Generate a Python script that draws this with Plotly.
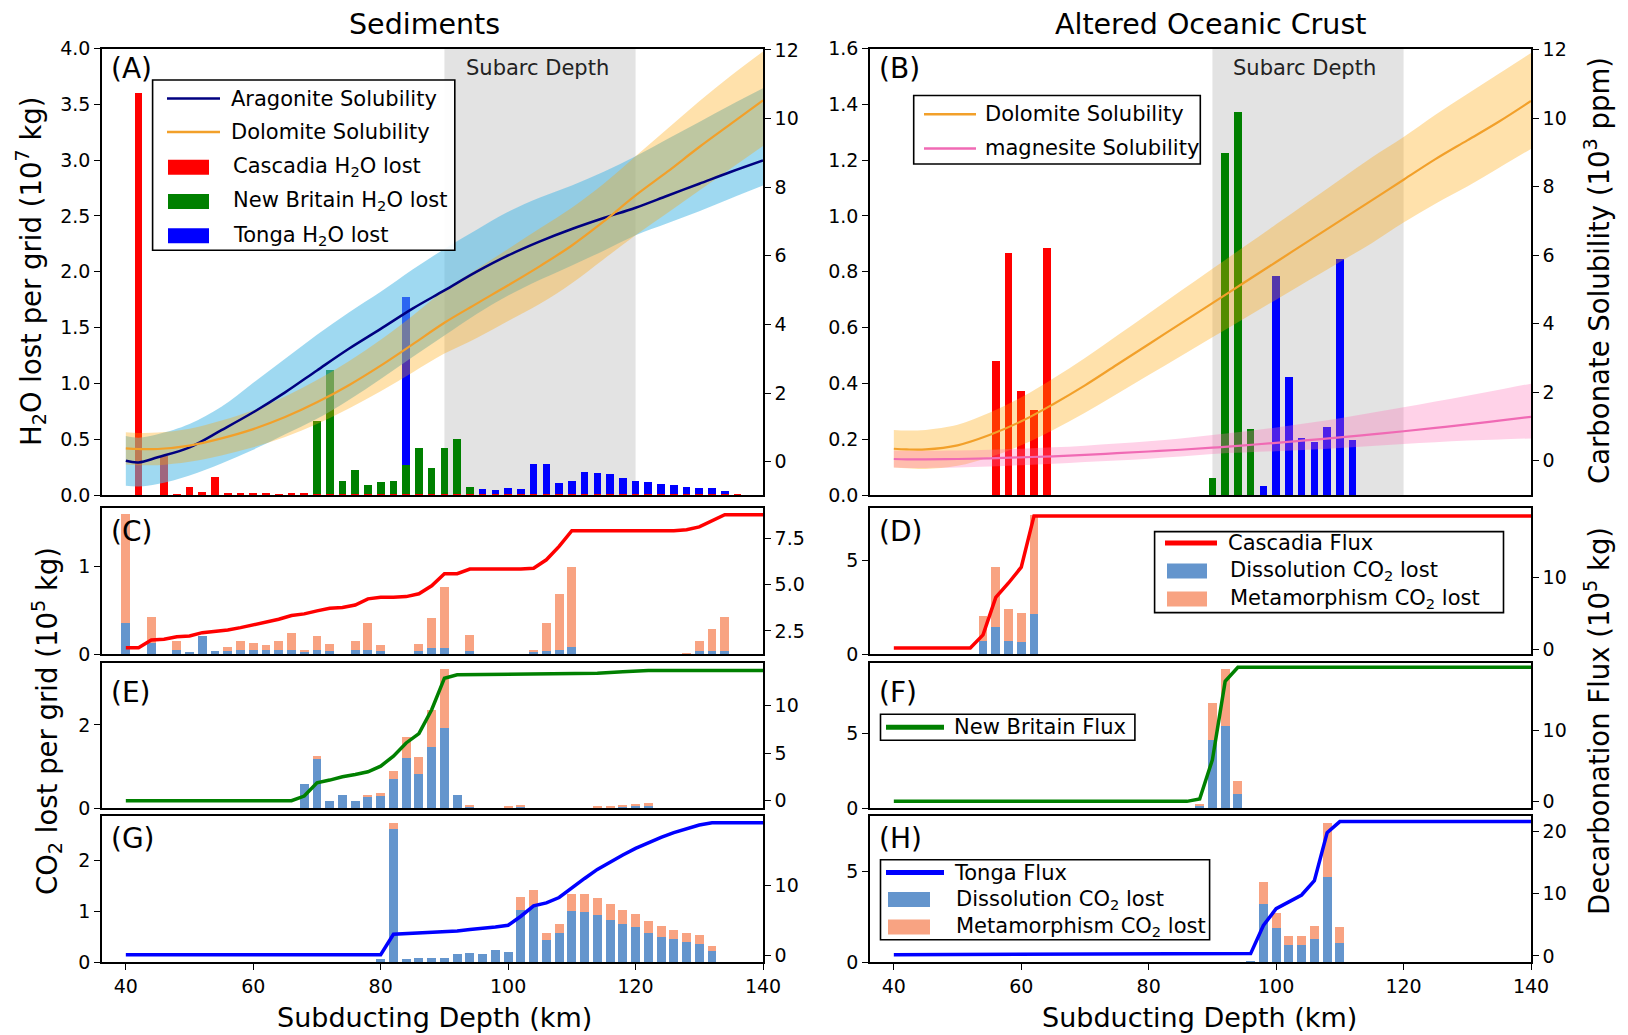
import plotly.graph_objects as go

W, H = 1628, 1035
FONT = "DejaVu Sans"

# ================= DATA =================
# ---- Panel A: sediments, H2O lost per grid (1e7 kg) ----
a_cas_x = [42, 46, 48, 50, 52, 54, 56, 58, 60, 62, 64, 66, 68,
           70, 72, 74, 76, 78, 80, 82, 84, 86, 88, 90, 92, 94, 96, 98, 100, 102,
           104, 106, 108, 110, 112, 114, 116, 118, 120, 122, 124, 126, 128, 130, 132, 134, 136]
a_cas_h2o = [3.61, 0.35, 0.015, 0.08, 0.03, 0.17, 0.025, 0.025, 0.025, 0.025, 0.015, 0.025, 0.025,
             0.012, 0.012, 0.012, 0.012, 0.012, 0.012, 0.012, 0.012, 0.012, 0.012, 0.012, 0.012, 0.012, 0.012, 0.012, 0.012, 0.012,
             0.012, 0.012, 0.012, 0.012, 0.012, 0.012, 0.012, 0.012, 0.012, 0.012, 0.012, 0.012, 0.012, 0.012, 0.012, 0.012, 0.012]
a_nb_x = [70, 72, 74, 76, 78, 80, 82, 84, 86, 88, 90, 92, 94]
a_nb_h2o = [0.67, 1.12, 0.13, 0.23, 0.09, 0.12, 0.13, 0.27, 0.43, 0.25, 0.43, 0.51, 0.08]
a_tg_x = [84, 96, 98, 100, 102, 104, 106, 108, 110, 112, 114, 116, 118, 120, 122, 124, 126, 128, 130, 132, 134, 136]
a_tg_h2o = [1.78, 0.06, 0.05, 0.063, 0.054, 0.28, 0.28, 0.11, 0.13, 0.21, 0.20, 0.19, 0.16, 0.13, 0.12, 0.10, 0.09, 0.08, 0.07, 0.063, 0.04, 0.015]

# solubility curves (1e3 ppm), right axes of A and B
sol_x = [40, 42, 45, 50, 55, 60, 65, 70, 75, 80, 85, 90, 95, 100, 105, 110, 115, 120, 125, 130, 135, 140]
arag = [0.03, -0.02, 0.13, 0.42, 0.92, 1.44, 2.02, 2.66, 3.29, 3.87, 4.46, 4.99, 5.53, 6.01, 6.42, 6.78, 7.1, 7.4, 7.75, 8.1, 8.45, 8.78]
arag_hi = [0.75, 0.7, 0.8, 1.1, 1.6, 2.3, 3.0, 3.7, 4.35, 4.95, 5.6, 6.2, 6.75, 7.28, 7.7, 8.05, 8.45, 8.9, 9.4, 9.9, 10.4, 10.88]
arag_lo = [-0.7, -0.72, -0.65, -0.4, -0.05, 0.35, 0.8, 1.25, 1.8, 2.41, 3.05, 3.68, 4.3, 4.84, 5.3, 5.72, 6.15, 6.6, 6.95, 7.3, 7.68, 8.05]
dolo_a = [0.39, 0.37, 0.37, 0.47, 0.68, 0.95, 1.3, 1.73, 2.23, 2.8, 3.42, 4.05, 4.6, 5.14, 5.7, 6.3, 7.0, 7.76, 8.45, 9.17, 9.85, 10.53]
dolo_a_hi = [0.86, 0.84, 0.85, 0.96, 1.2, 1.5, 1.9, 2.38, 2.93, 3.55, 4.25, 5.0, 5.6, 6.2, 6.8, 7.4, 8.1, 8.9, 9.7, 10.5, 11.25, 11.95]
dolo_a_lo = [-0.08, -0.1, -0.1, 0.0, 0.18, 0.42, 0.72, 1.1, 1.55, 2.05, 2.6, 3.15, 3.6, 4.1, 4.6, 5.2, 5.9, 6.6, 7.25, 7.9, 8.55, 9.2]

# ---- Panel B: altered oceanic crust, H2O lost ----
b_cas_x = [56, 58, 60, 62, 64]
b_cas_h2o = [0.483, 0.869, 0.375, 0.307, 0.886]
b_nb_x = [90, 92, 94, 96]
b_nb_h2o = [0.063, 1.229, 1.375, 0.237]
b_tg_x = [98, 100, 102, 104, 106, 108, 110, 112]
b_tg_h2o = [0.034, 0.788, 0.423, 0.205, 0.193, 0.245, 0.847, 0.198]
dolo_b = [0.35, 0.33, 0.33, 0.45, 0.75, 1.15, 1.65, 2.2, 2.8, 3.4, 4.0, 4.6, 5.2, 5.8, 6.4, 7.0, 7.6, 8.2, 8.8, 9.35, 9.9, 10.5]
dolo_b_hi = [0.9, 0.88, 0.9, 1.05, 1.4, 1.85, 2.4, 3.0, 3.65, 4.3, 4.95, 5.6, 6.25, 6.9, 7.55, 8.2, 8.85, 9.45, 10.1, 10.7, 11.3, 11.9]
dolo_b_lo = [-0.2, -0.22, -0.24, -0.15, 0.1, 0.45, 0.9, 1.4, 1.95, 2.5, 3.05, 3.6, 4.15, 4.7, 5.25, 5.8, 6.35, 6.95, 7.5, 8.0, 8.55, 9.1]
magn = [0.05, 0.04, 0.04, 0.05, 0.07, 0.1, 0.13, 0.17, 0.22, 0.27, 0.32, 0.38, 0.45, 0.52, 0.6, 0.68, 0.77, 0.86, 0.96, 1.06, 1.17, 1.28]
magn_hi = [0.3, 0.29, 0.29, 0.3, 0.32, 0.35, 0.39, 0.44, 0.5, 0.57, 0.65, 0.75, 0.85, 0.97, 1.1, 1.24, 1.4, 1.56, 1.73, 1.9, 2.07, 2.25]
magn_lo = [-0.2, -0.21, -0.21, -0.2, -0.17, -0.13, -0.09, -0.04, 0.01, 0.06, 0.12, 0.2, 0.24, 0.28, 0.32, 0.37, 0.43, 0.49, 0.54, 0.59, 0.62, 0.65]

subarc = [90, 120]

# ---- Panels C-H: CO2 lost per grid (1e5 kg) and decarbonation flux (1e5 kg) ----
c_x = [40, 44, 48, 50, 52, 54, 56, 58, 60, 62, 64, 66, 68, 70, 72, 76, 78, 80, 86, 88, 90, 94, 104, 106, 108, 110, 128, 130, 132, 134]
c_diss = [0.35, 0.12, 0.05, 0.015, 0.20, 0.03, 0.03, 0.05, 0.04, 0.04, 0.05, 0.05, 0.03, 0.04, 0.03, 0.04, 0.05, 0.03, 0.03, 0.065, 0.065, 0.03, 0.02, 0.03, 0.05, 0.08, 0.005, 0.03, 0.03, 0.03]
c_meta = [1.24, 0.30, 0.10, 0.0, 0.0, 0.0, 0.05, 0.10, 0.09, 0.06, 0.10, 0.19, 0.02, 0.16, 0.08, 0.11, 0.30, 0.07, 0.08, 0.345, 0.695, 0.19, 0.03, 0.32, 0.63, 0.91, 0.005, 0.12, 0.25, 0.39]
c_fx = [40, 42, 44, 46, 48, 50, 52, 54, 56, 58, 60, 62, 64, 66, 68, 70, 72, 74, 76, 78, 80, 82, 84, 86, 88, 90, 92, 94, 96, 102, 104, 106, 108, 110, 126, 128, 130, 132, 134, 140]
c_flux = [1.6, 1.6, 2.01, 2.05, 2.19, 2.23, 2.41, 2.48, 2.55, 2.68, 2.82, 2.95, 3.13, 3.33, 3.42, 3.58, 3.72, 3.76, 3.9, 4.23, 4.32, 4.32, 4.35, 4.5, 4.93, 5.58, 5.58, 5.83, 5.83, 5.83, 5.88, 6.33, 7.05, 7.9, 7.9, 7.95, 8.1, 8.45, 8.76, 8.76]

d_x = [54, 56, 58, 60, 62]
d_diss = [0.72, 1.43, 0.72, 0.65, 2.13]
d_meta = [1.34, 3.21, 1.68, 1.57, 5.34]
d_fx = [40, 52, 54, 56, 58, 60, 62, 140]
d_flux = [0.18, 0.18, 2.0, 7.2, 9.2, 11.4, 18.5, 18.5]

e_x = [68, 70, 72, 74, 76, 78, 80, 82, 84, 86, 88, 90, 92, 94, 100, 102, 114, 116, 118, 120, 122]
e_diss = [0.57, 1.18, 0.17, 0.32, 0.17, 0.28, 0.29, 0.69, 1.21, 0.82, 1.47, 1.93, 0.32, 0.04, 0.02, 0.025, 0.015, 0.02, 0.03, 0.04, 0.05]
e_meta = [0.0, 0.07, 0.0, 0.0, 0.0, 0.01, 0.07, 0.20, 0.50, 0.40, 0.90, 1.41, 0.0, 0.03, 0.02, 0.025, 0.015, 0.02, 0.03, 0.05, 0.08]
e_fx = [40, 66, 68, 70, 72, 74, 76, 78, 80, 82, 84, 86, 88, 90, 92, 100, 110, 114, 118, 122, 140]
e_flux = [0.0, 0.0, 0.49, 1.89, 2.17, 2.52, 2.76, 3.04, 3.64, 4.69, 6.08, 7.06, 9.58, 12.9, 13.25, 13.32, 13.36, 13.43, 13.57, 13.7, 13.7]

f_x = [88, 90, 92, 94]
f_diss = [0.2, 4.6, 5.54, 0.96]
f_meta = [0.07, 2.46, 3.81, 0.83]
f_fx = [40, 86, 88, 90, 92, 94, 140]
f_flux = [0.0, 0.0, 0.33, 5.9, 17.0, 19.0, 19.0]

g_x = [80, 82, 84, 86, 88, 90, 92, 94, 96, 98, 100, 102, 104, 106, 108, 110, 112, 114, 116, 118, 120, 122, 124, 126, 128, 130, 132]
g_diss = [0.05, 2.62, 0.05, 0.08, 0.08, 0.08, 0.15, 0.18, 0.15, 0.23, 0.2, 1.02, 1.08, 0.44, 0.57, 1.0, 0.98, 0.92, 0.83, 0.74, 0.69, 0.57, 0.5, 0.46, 0.39, 0.36, 0.22]
g_meta = [0.0, 0.11, 0.0, 0.0, 0.0, 0.0, 0.0, 0.0, 0.0, 0.0, 0.0, 0.25, 0.33, 0.13, 0.18, 0.33, 0.35, 0.33, 0.32, 0.28, 0.26, 0.24, 0.21, 0.16, 0.18, 0.18, 0.09]
g_fx = [40, 80, 82, 84, 86, 88, 90, 92, 94, 96, 98, 100, 102, 104, 106, 108, 110, 112, 114, 116, 118, 120, 122, 124, 126, 128, 130, 132, 140]
g_flux = [0.1, 0.1, 3.0, 3.1, 3.2, 3.24, 3.33, 3.48, 3.67, 3.81, 4.05, 4.29, 5.57, 7.05, 7.48, 8.24, 9.52, 10.95, 12.24, 13.33, 14.29, 15.24, 16.05, 16.81, 17.48, 18.05, 18.57, 18.9, 18.9]

h_x = [96, 98, 100, 102, 104, 106, 108, 110]
h_diss = [0.03, 3.24, 1.89, 0.93, 0.93, 1.26, 4.69, 1.07]
h_meta = [0.0, 1.20, 0.80, 0.50, 0.50, 0.76, 3.03, 0.87]
h_fx = [40, 96, 98, 100, 102, 104, 106, 108, 110, 140]
h_flux = [0.2, 0.38, 4.9, 7.6, 8.7, 9.8, 12.1, 19.8, 21.6, 21.6]

# ================= STYLE / LAYOUT =================
C_RED, C_GREEN, C_BLUE = "#FF0000", "#008000", "#0000FF"
C_NAVY, C_ORANGE, C_PINK = "#000080", "#F2A02A", "#F06AB4"
C_DISS, C_META = "#6495CD", "#F8A382"

OFF = 8  # page body margin: screen px = figure px + 8
def X(px):
    return (px - OFF) / W
def Y(py):
    return 1 - (py - OFF) / H

XL = [X(102), X(763)]
XR = [X(870), X(1531)]
def ydom(top, bot):
    return [Y(bot), Y(top)]
YA, YC, YE, YG = ydom(48.5, 495), ydom(508, 654), ydom(663, 808), ydom(816, 962)

# panel: (x axis, left y, right y, xdomain, ydomain)
P = {
    "A": ("x", "y", "y2", XL, YA), "B": ("x2", "y3", "y4", XR, YA),
    "C": ("x3", "y5", "y6", XL, YC), "D": ("x4", "y7", "y8", XR, YC),
    "E": ("x5", "y9", "y10", XL, YE), "F": ("x6", "y11", "y12", XR, YE),
    "G": ("x7", "y13", "y14", XL, YG), "H": ("x8", "y15", "y16", XR, YG),
}
def lname(a):
    return a[0] + "axis" + a[1:]

fig = go.Figure()

def add_bar(p, x, y, color, width, base=None, name=""):
    xa, yl, yr, _, _ = P[p]
    fig.add_trace(go.Bar(x=x, y=y, base=base, width=width, marker=dict(color=color, line=dict(width=0)),
                         xaxis=xa, yaxis=yl, name=name, showlegend=False, hoverinfo="skip"))

def add_line(p, x, y, color, width, name="", spline=False):
    xa, yl, yr, _, _ = P[p]
    fig.add_trace(go.Scatter(x=x, y=y, mode="lines", name=name,
                             line=dict(color=color, width=width, shape="spline" if spline else "linear"),
                             xaxis=xa, yaxis=yr, showlegend=False, hoverinfo="skip"))

def add_band(p, x, lo, hi, fill):
    xa, yl, yr, _, _ = P[p]
    fig.add_trace(go.Scatter(x=x, y=lo, mode="lines", line=dict(width=0, shape="spline"),
                             xaxis=xa, yaxis=yr, showlegend=False, hoverinfo="skip"))
    fig.add_trace(go.Scatter(x=x, y=hi, mode="lines", line=dict(width=0, shape="spline"),
                             fill="tonexty", fillcolor=fill,
                             xaxis=xa, yaxis=yr, showlegend=False, hoverinfo="skip"))

# ---- Panel A ----
add_bar("A", a_tg_x, a_tg_h2o, C_BLUE, 1.2, name="Tonga H2O lost")
add_bar("A", a_nb_x, a_nb_h2o, C_GREEN, 1.2, name="New Britain H2O lost")
add_bar("A", a_cas_x, a_cas_h2o, C_RED, 1.2, name="Cascadia H2O lost")
add_band("A", sol_x, arag_lo, arag_hi, "rgba(80,185,230,0.55)")
add_band("A", sol_x, dolo_a_lo, dolo_a_hi, "rgba(255,165,0,0.33)")
add_line("A", sol_x, arag, C_NAVY, 2.5, name="Aragonite Solubility", spline=True)
add_line("A", sol_x, dolo_a, C_ORANGE, 2.2, name="Dolomite Solubility", spline=True)

# ---- Panel B ----
add_bar("B", b_cas_x, b_cas_h2o, C_RED, 1.2)
add_bar("B", b_nb_x, b_nb_h2o, C_GREEN, 1.2)
add_bar("B", b_tg_x, b_tg_h2o, C_BLUE, 1.2)
add_band("B", sol_x, dolo_b_lo, dolo_b_hi, "rgba(255,165,0,0.33)")
add_band("B", sol_x, magn_lo, magn_hi, "rgba(255,105,180,0.3)")
add_line("B", sol_x, dolo_b, C_ORANGE, 2.2, name="Dolomite Solubility", spline=True)
add_line("B", sol_x, magn, C_PINK, 2.2, name="magnesite Solubility", spline=True)

# ---- Panels C-H ----
BW = 1.4
def co2_panel(p, x, diss, meta, fx, flux, color):
    add_bar(p, x, diss, C_DISS, BW, name="Dissolution CO2 lost")
    add_bar(p, x, meta, C_META, BW, base=diss, name="Metamorphism CO2 lost")
    add_line(p, fx, flux, color, 3.5, name="Flux")

co2_panel("C", c_x, c_diss, c_meta, c_fx, c_flux, C_RED)
co2_panel("D", d_x, d_diss, d_meta, d_fx, d_flux, C_RED)
co2_panel("E", e_x, e_diss, e_meta, e_fx, e_flux, C_GREEN)
co2_panel("F", f_x, f_diss, f_meta, f_fx, f_flux, C_GREEN)
co2_panel("G", g_x, g_diss, g_meta, g_fx, g_flux, C_BLUE)
co2_panel("H", h_x, h_diss, h_meta, h_fx, h_flux, C_BLUE)

# ---- axes ----
TICKF = dict(family=FONT, size=19, color="black")
LW = 1.6
yranges = {
    "A": ([0, 4.0], 0.5, ".1f", [-0.97, 12.04], 2, None),
    "B": ([0, 1.6], 0.2, ".1f", [-1.0, 12.03], 2, None),
    "C": ([0, 1.66], 1, None, [1.26, 9.12], 2.5, ".1f"),
    "D": ([0, 7.83], 5, None, [-0.65, 19.6], 10, None),
    "E": ([0, 3.49], 2, None, [-0.77, 14.5], 5, None),
    "F": ([0, 9.75], 5, None, [-0.94, 19.6], 10, None),
    "G": ([0, 2.87], 1, None, [-0.95, 19.85], 10, None),
    "H": ([0, 8.09], 5, None, [-0.97, 22.5], 10, None),
}
lay = {}
for p, (xa, yl, yr, xd, yd) in P.items():
    bottom = p in ("G", "H")
    lay[lname(xa)] = dict(domain=xd, anchor=yl, range=[36.26, 140], showline=True, mirror=True,
                          linecolor="black", linewidth=LW, showgrid=False, zeroline=False,
                          ticks="outside" if bottom else "", showticklabels=bottom,
                          tickvals=[40, 60, 80, 100, 120, 140], ticklen=6, tickwidth=1.4,
                          tickcolor="black", tickfont=TICKF, automargin=False)
    lr, ld, lf, rr, rd, rf = yranges[p]
    lay[lname(yl)] = dict(domain=yd, anchor=xa, range=lr, dtick=ld, tick0=0, tickformat=lf,
                          showline=True, linecolor="black", linewidth=LW, showgrid=False,
                          zeroline=False, ticks="outside", ticklen=6, tickwidth=1.4,
                          tickcolor="black", tickfont=TICKF, automargin=False)
    lay[lname(yr)] = dict(overlaying=yl, anchor=xa, side="right", range=rr, dtick=rd, tick0=0,
                          tickformat=rf, showline=True, linecolor="black", linewidth=LW,
                          showgrid=False, zeroline=False, ticks="outside", ticklen=6,
                          tickwidth=1.4, tickcolor="black", tickfont=TICKF, automargin=False)

# ---- shapes: subarc depth band ----
shapes = []
for p in ("A", "B"):
    xa, yl = P[p][0], P[p][1]
    shapes.append(dict(type="rect", xref=xa, yref=yl + " domain", x0=subarc[0], x1=subarc[1],
                       y0=0, y1=1, fillcolor="rgba(128,128,128,0.22)", line=dict(width=0),
                       layer="below"))

# ---- annotations ----
ann = []
def txt(x, y, s, size, xanchor="center", color="black", **kw):
    ann.append(dict(x=X(x), y=Y(y), xref="paper", yref="paper", text=s, showarrow=False,
                    xanchor=xanchor, yanchor="middle", borderpad=0,
                    font=dict(family=FONT, size=size, color=color), **kw))

txt(424, 24, "Sediments", 28.5)
txt(1210, 24, "Altered Oceanic Crust", 28.5)
txt(434, 1017, "Subducting Depth (km)", 27)
txt(1199, 1017, "Subducting Depth (km)", 27)
txt(31, 271, "H<sub>2</sub>O lost per grid (10<sup>7</sup> kg)", 27.5, textangle=-90)
txt(47, 721, "CO<sub>2</sub> lost per grid (10<sup>5</sup> kg)", 27.5, textangle=-90)
txt(1597, 271, "Carbonate Solubility (10<sup>3</sup> ppm)", 27.5, textangle=-90)
txt(1597, 721, "Decarbonation Flux (10<sup>5</sup> kg)", 27.5, textangle=-90)
for lab, xx, yy in [("(A)", 110, 68), ("(B)", 878, 68), ("(C)", 110, 531), ("(D)", 878, 531),
                    ("(E)", 110, 692), ("(F)", 878, 692), ("(G)", 110, 838), ("(H)", 878, 838)]:
    txt(xx, yy, lab, 28, xanchor="left")
txt(537, 68.5, "Subarc Depth", 21, color="#222222")
txt(1304, 68.5, "Subarc Depth", 21, color="#222222")

# ---- legends (drawn as boxes, symbols and text) ----
LEGF = 21
def leg_box(x0, y0, x1, y1):
    shapes.append(dict(type="rect", xref="paper", yref="paper", x0=X(x0), x1=X(x1), y0=Y(y1), y1=Y(y0),
                       fillcolor="rgba(255,255,255,0.9)", line=dict(color="black", width=1.6)))
def leg_line(x0, x1, y, color, width, label, tx):
    shapes.append(dict(type="line", xref="paper", yref="paper", x0=X(x0), x1=X(x1), y0=Y(y), y1=Y(y),
                       line=dict(color=color, width=width)))
    txt(tx, y, label, LEGF, xanchor="left")
def leg_patch(x0, x1, y, color, label, tx, h=15):
    shapes.append(dict(type="rect", xref="paper", yref="paper", x0=X(x0), x1=X(x1),
                       y0=Y(y + h / 2), y1=Y(y - h / 2), fillcolor=color, line=dict(width=0)))
    txt(tx, y, label, LEGF, xanchor="left")

# A
leg_box(152.6, 80, 454.8, 250.2)
leg_line(167, 220, 98.6, C_NAVY, 2.5, "Aragonite Solubility", 230)
leg_line(167, 220, 131.9, C_ORANGE, 2.5, "Dolomite Solubility", 230)
leg_patch(168, 209, 167.2, C_RED, "Cascadia H<sub>2</sub>O lost", 232)
leg_patch(168, 209, 201.4, C_GREEN, "New Britain H<sub>2</sub>O lost", 232)
leg_patch(168, 209, 235.7, C_BLUE, "Tonga H<sub>2</sub>O lost", 232)
# B
leg_box(913.7, 95.5, 1200.3, 164)
leg_line(924, 976, 114.2, C_ORANGE, 2.5, "Dolomite Solubility", 984)
leg_line(924, 976, 148.5, C_PINK, 2.5, "magnesite Solubility", 984)
# D
leg_box(1154.6, 531.6, 1503.5, 612.6)
leg_line(1165, 1217, 543, C_RED, 5, "Cascadia Flux", 1227)
leg_patch(1167, 1207, 571, C_DISS, "Dissolution CO<sub>2</sub> lost", 1229)
leg_patch(1167, 1207, 599, C_META, "Metamorphism CO<sub>2</sub> lost", 1229)
# F
leg_box(880.5, 714.3, 1134.9, 740.3)
leg_line(886, 944, 727.3, C_GREEN, 5, "New Britain Flux", 953)
# H
leg_box(880.5, 859.7, 1209.6, 939.7)
leg_line(886, 944, 872.5, C_BLUE, 5, "Tonga Flux", 953)
leg_patch(888, 930, 899.5, C_DISS, "Dissolution CO<sub>2</sub> lost", 955)
leg_patch(888, 930, 927, C_META, "Metamorphism CO<sub>2</sub> lost", 955)

fig.update_layout(
    template="none",
    width=W, height=H, margin=dict(l=0, r=0, t=0, b=0, autoexpand=False),
    paper_bgcolor="white", plot_bgcolor="rgba(0,0,0,0)",
    barmode="overlay", bargap=0, showlegend=False,
    shapes=shapes, annotations=ann, font=dict(family=FONT, color="black"),
    **lay,
)

fig.write_html("out.html")
